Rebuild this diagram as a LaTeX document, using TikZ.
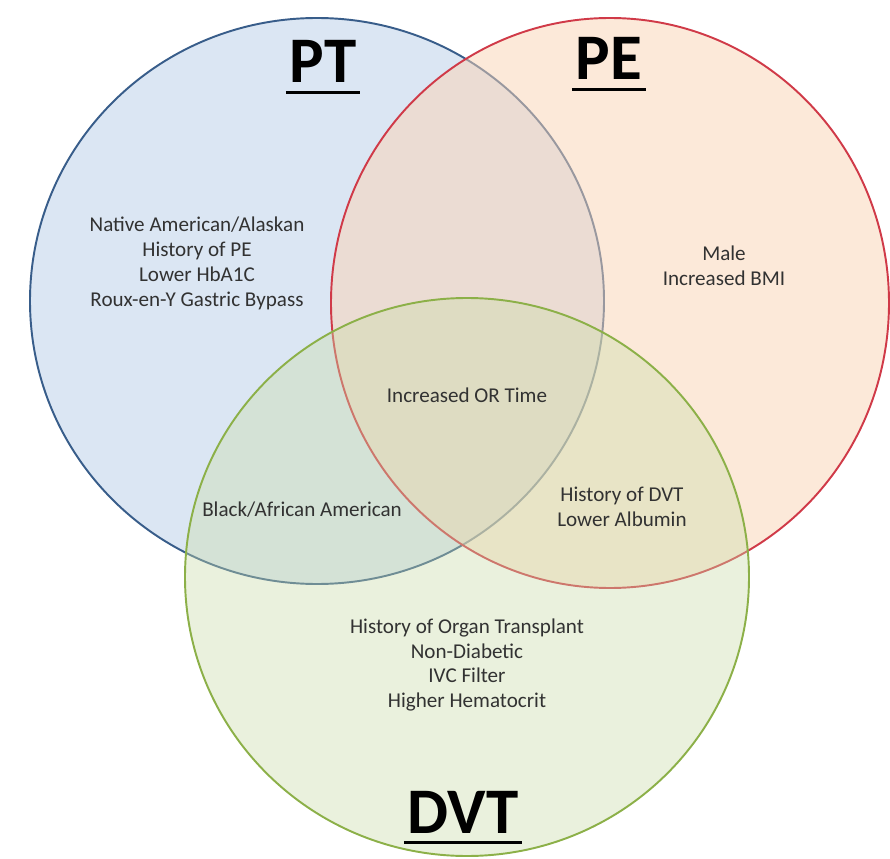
\documentclass[tikz,border=0pt]{standalone}
\usepackage{fontspec}
\setmainfont{Carlito}
\usepackage{tikz}
\usetikzlibrary{shapes.geometric}
\usetikzlibrary{positioning}

\definecolor{ptfill}{RGB}{184,206,232}
\definecolor{ptline}{RGB}{56,93,138}
\definecolor{pefill}{RGB}{251,212,180}
\definecolor{peline}{RGB}{208,58,72}
\definecolor{dvtfill}{RGB}{202,220,168}
\definecolor{dvtline}{RGB}{140,176,72}
\definecolor{txt}{RGB}{50,50,50}

\begin{document}
\begin{tikzpicture}[set/.style={ellipse,inner sep=0pt,outer sep=0pt,line width=1.1pt,fill opacity=0.5},
		title/.style={font=\fontsize{37}{40}\selectfont\bfseries,inner sep=0pt},
		uline/.style={line width=1.8pt},
		items/.style={align=center,text=txt,font=\fontsize{12}{14.2}\selectfont}]

	\useasboundingbox (0,0) rectangle (17.8,17.16);
	\fill[white] (0,0) rectangle (17.8,17.16);

	% the three sets
	\node[set,draw=ptline,fill=ptfill,minimum width=11.48cm,minimum height=11.32cm] (PT) at (6.34,11.14) {};
	\node[set,draw=peline,fill=pefill,minimum width=11.16cm,minimum height=11.4cm] (PE) at (12.2,11.1) {};
	\node[set,draw=dvtline,fill=dvtfill,fill opacity=0.38,minimum width=11.28cm,minimum height=11.16cm] (DVT) at (9.34,5.62) {};

	% titles
	\node[title,anchor=base] (PTt) at (6.46,15.5) {PT};
	\node[title,anchor=base] (PEt) at (12.18,15.56) {PE};
	\node[title,anchor=base] (DVTt) at (9.26,0.5) {DVT};
	\foreach \t in {PTt,PEt,DVTt}
		\draw[uline] ([xshift=-2pt,yshift=-0.19cm]\t.base west) -- ([xshift=2pt,yshift=-0.19cm]\t.base east);

	% regions
	\node[items] (ptonly) at (3.94,11.9) {Native American/Alaskan\\History of PE\\Lower HbA1C\\Roux-en-Y Gastric Bypass};
	\node[items] (peonly) at (14.48,11.84) {Male\\Increased BMI};
	\node[items] (all) at (9.34,9.26) {Increased OR Time};
	\node[items] (ptdvt) at (6.04,6.96) {Black/African American};
	\node[items] (pedvt) at (12.44,7.02) {History of DVT\\Lower Albumin};
	\node[items] (dvtonly) at (9.34,3.86) {History of Organ Transplant\\Non-Diabetic\\IVC Filter\\Higher Hematocrit};

\end{tikzpicture}
\end{document}
